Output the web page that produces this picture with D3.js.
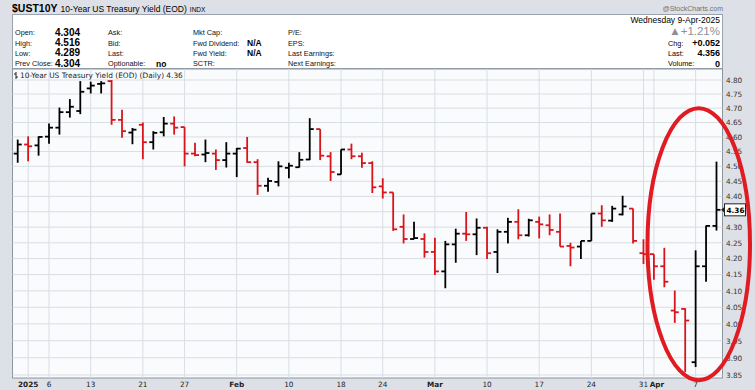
<!DOCTYPE html>
<html>
<head>
<meta charset="utf-8">
<script src="https://cdnjs.cloudflare.com/ajax/libs/d3/7.8.5/d3.min.js"></script>
<style>
  body { margin: 0; background: #dde1e7; }
  svg { display: block; font-family: "Liberation Sans", Arial, sans-serif; }
</style>
</head>
<body>
<svg id="chart"></svg>
<script>
// trading days shown on the chart
const dates = [
  "2024-12-31", "2025-01-02", "2025-01-03", "2025-01-06", "2025-01-07", "2025-01-08", "2025-01-10",
  "2025-01-13", "2025-01-14", "2025-01-15", "2025-01-16", "2025-01-17", "2025-01-21", "2025-01-22",
  "2025-01-23", "2025-01-24", "2025-01-27", "2025-01-28", "2025-01-29", "2025-01-30", "2025-01-31",
  "2025-02-03", "2025-02-04", "2025-02-05", "2025-02-06", "2025-02-07", "2025-02-10", "2025-02-11",
  "2025-02-12", "2025-02-13", "2025-02-14", "2025-02-18", "2025-02-19", "2025-02-20", "2025-02-21",
  "2025-02-24", "2025-02-25", "2025-02-26", "2025-02-27", "2025-02-28", "2025-03-03", "2025-03-04",
  "2025-03-05", "2025-03-06", "2025-03-07", "2025-03-10", "2025-03-11", "2025-03-12", "2025-03-13",
  "2025-03-14", "2025-03-17", "2025-03-18", "2025-03-19", "2025-03-20", "2025-03-21", "2025-03-24",
  "2025-03-25", "2025-03-26", "2025-03-27", "2025-03-28", "2025-03-31", "2025-04-01", "2025-04-02",
  "2025-04-03", "2025-04-04", "2025-04-07", "2025-04-08", "2025-04-09"
];
const opens = [
  4.543, 4.574, 4.571, 4.601, 4.632, 4.686, 4.690, 4.770, 4.786, 4.796, 4.659, 4.615, 4.642, 4.582,
  4.616, 4.646, 4.634, 4.543, 4.540, 4.543, 4.521, 4.543, 4.562, 4.514, 4.435, 4.448, 4.495, 4.497,
  4.523, 4.627, 4.534, 4.473, 4.557, 4.534, 4.511, 4.433, 4.413, 4.301, 4.262, 4.262, 4.221, 4.160,
  4.245, 4.279, 4.277, 4.298, 4.221, 4.285, 4.317, 4.274, 4.317, 4.306, 4.285, 4.240, 4.238, 4.256,
  4.344, 4.321, 4.341, 4.360, 4.217, 4.214, 4.176, 4.040, 4.045, 3.887, 4.176, 4.304
];
const highs = [
  4.591, 4.602, 4.602, 4.646, 4.702, 4.732, 4.796, 4.794, 4.796, 4.800, 4.694, 4.631, 4.650, 4.620,
  4.669, 4.671, 4.634, 4.580, 4.591, 4.557, 4.582, 4.562, 4.600, 4.524, 4.462, 4.517, 4.512, 4.548,
  4.665, 4.627, 4.548, 4.557, 4.577, 4.546, 4.517, 4.460, 4.413, 4.341, 4.317, 4.280, 4.266, 4.256,
  4.295, 4.349, 4.328, 4.301, 4.293, 4.330, 4.358, 4.327, 4.334, 4.341, 4.344, 4.250, 4.256, 4.344,
  4.371, 4.369, 4.402, 4.360, 4.261, 4.214, 4.234, 4.101, 4.047, 4.226, 4.305, 4.516
];
const lows = [
  4.512, 4.517, 4.536, 4.577, 4.608, 4.667, 4.679, 4.752, 4.752, 4.642, 4.597, 4.575, 4.524, 4.557,
  4.602, 4.608, 4.500, 4.534, 4.514, 4.488, 4.496, 4.464, 4.512, 4.405, 4.415, 4.433, 4.460, 4.496,
  4.521, 4.521, 4.451, 4.473, 4.524, 4.495, 4.411, 4.393, 4.288, 4.248, 4.261, 4.203, 4.149, 4.108,
  4.187, 4.256, 4.211, 4.199, 4.155, 4.248, 4.261, 4.270, 4.264, 4.274, 4.238, 4.176, 4.199, 4.256,
  4.301, 4.317, 4.338, 4.248, 4.183, 4.134, 4.111, 4.003, 3.858, 3.873, 4.128, 4.289
];
const closes = [
  4.574, 4.568, 4.600, 4.632, 4.686, 4.705, 4.758, 4.780, 4.788, 4.659, 4.620, 4.625, 4.582, 4.614,
  4.646, 4.632, 4.543, 4.538, 4.545, 4.521, 4.543, 4.560, 4.514, 4.435, 4.451, 4.500, 4.502, 4.522,
  4.627, 4.536, 4.481, 4.557, 4.534, 4.511, 4.430, 4.413, 4.293, 4.262, 4.265, 4.221, 4.160, 4.245,
  4.279, 4.277, 4.298, 4.217, 4.285, 4.317, 4.274, 4.322, 4.309, 4.291, 4.238, 4.235, 4.256, 4.344,
  4.322, 4.360, 4.367, 4.256, 4.214, 4.176, 4.128, 4.035, 4.010, 4.176, 4.304, 4.356
];

const yTicks = [4.80, 4.75, 4.70, 4.65, 4.60, 4.55, 4.50, 4.45, 4.40, 4.35, 4.30, 4.25, 4.20,
  4.15, 4.10, 4.05, 4.00, 3.95, 3.90, 3.85];
const xTickDates = ["2025-01-02", "2025-01-06", "2025-01-13", "2025-01-21", "2025-01-27", "2025-02-03",
  "2025-02-10", "2025-02-18", "2025-02-24", "2025-03-03", "2025-03-10", "2025-03-17", "2025-03-24",
  "2025-03-31", "2025-04-01", "2025-04-07"];
const xTickLabels = ["2025", "6", "13", "21", "27", "Feb", "10", "18", "24", "Mar", "10", "17", "24",
  "31", "Apr", "7"];

// quote panel
const quoteLabels = [
  ["Open:", "High:", "Low:", "Prev Close:"],
  ["Ask:", "Bid:", "Last:", "Optionable:"],
  ["Mkt Cap:", "Fwd Dividend:", "Fwd Yield:", "SCTR:"],
  ["P/E:", "EPS:", "Last Earnings:", "Next Earnings:"]
];
const quoteValues = [
  ["4.304", "4.516", "4.289", "4.304"],
  ["", "", "", "no"],
  ["", "N/A", "N/A", ""],
  ["", "", "", ""]
];
const summaryLabels = ["Chg:", "Last:", "Volume:"];
const summaryValues = ["+0.052", "4.356", "0"];
const lastValue = 4.356;
// the hand-drawn circle around the April swing
const circled = { from: "2025-03-31", to: "2025-04-09", hi: 4.70, lo: 3.835 };

var W = 755, H = 390;
var plot = { left: 12.5, right: 722.5, top: 69, bottom: 378 };
var RED = "#d8151b";

var svg = d3.select("#chart").attr("width", W).attr("height", H);

var x = d3.scaleBand().domain(dates).range([12.5, 721.7]);
function cx(d) { return x(d) + x.bandwidth() / 2; }
var y = d3.scaleLog().domain([3.85, 4.80]).range([375, 80]);

/**
 * Header: symbol line and the quote box.
 */
function drawHeader() {
  var title = svg.append("text").attr("x", 12).attr("y", 12);
  title.append("tspan").style("font-weight", "bold").style("font-size", "10.5px").text("$UST10Y");
  title.append("tspan").attr("dx", 3).style("font-size", "8.5px").text("10-Year US Treasury Yield (EOD)");
  title.append("tspan").attr("dx", 3).style("font-size", "6.5px").text("INDX");

  svg.append("text")
    .attr("x", 723).attr("y", 11)
    .style("text-anchor", "end")
    .style("font-size", "7px")
    .style("fill", "#6b727c")
    .text("@StockCharts.com");

  svg.append("rect")
    .attr("x", 12.5).attr("y", 14.5)
    .attr("width", 710).attr("height", 54)
    .attr("fill", "#ffffff")
    .attr("stroke", "#9aa2ad");

  var labelX = [15, 108, 193, 288];
  var valueX = [55, 156, 247, 0];
  var rowY = [35, 45.5, 55.5, 66];
  quoteLabels.forEach(function(col, c) {
    col.forEach(function(label, r) {
      svg.append("text")
        .attr("x", labelX[c]).attr("y", rowY[r])
        .style("font-size", "7.3px").style("fill", "#111")
        .text(label);
      if (quoteValues[c][r]) {
        svg.append("text")
          .attr("x", valueX[c]).attr("y", rowY[r] + 0.5)
          .style("font-size", c == 0 ? "10px" : "8.5px")
          .style("font-weight", "bold")
          .text(quoteValues[c][r]);
      }
    });
  });

  svg.append("text")
    .attr("x", 720).attr("y", 22.5)
    .style("text-anchor", "end").style("font-size", "8.5px")
    .text("Wednesday  9-Apr-2025");
  svg.append("text")
    .attr("x", 720).attr("y", 35)
    .style("text-anchor", "end").style("font-size", "11.5px")
    .style("fill", "#8b9098")
    .text("\u25B2+1.21%");
  summaryLabels.forEach(function(label, i) {
    svg.append("text")
      .attr("x", 668).attr("y", rowY[i + 1])
      .style("font-size", "7.3px")
      .text(label);
    svg.append("text")
      .attr("x", 720).attr("y", rowY[i + 1] + 0.5)
      .style("text-anchor", "end").style("font-size", "9px").style("font-weight", "bold")
      .text(summaryValues[i]);
  });
}

/**
 * Plot frame, grid and axes.
 */
function drawFrame() {
  svg.append("rect")
    .attr("x", plot.left).attr("y", plot.top)
    .attr("width", plot.right - plot.left).attr("height", plot.bottom - plot.top)
    .attr("fill", "#fafbfd")
    .attr("stroke", "#8c949f");

  svg.append("g").selectAll("line")
    .data(yTicks)
    .enter().append("line")
    .attr("x1", plot.left).attr("x2", plot.right)
    .attr("y1", function(d) { return y(d); })
    .attr("y2", function(d) { return y(d); })
    .attr("stroke", "#d9dde4");

  svg.append("g").selectAll("line")
    .data(xTickDates)
    .enter().append("line")
    .attr("x1", function(d) { return cx(d); })
    .attr("x2", function(d) { return cx(d); })
    .attr("y1", plot.top).attr("y2", plot.bottom)
    .attr("stroke", "#d9dde4");

  // right price axis; the label under the last-value box is hidden
  svg.append("g").selectAll("text")
    .data(yTicks.filter(function(d) { return Math.abs(y(d) - y(lastValue)) > 8; }))
    .enter().append("text")
    .attr("x", 726)
    .attr("y", function(d) { return y(d) + 2.8; })
    .style("font-family", "'DejaVu Sans', Verdana, sans-serif")
    .style("font-size", "7.3px")
    .style("fill", "#333")
    .text(function(d) { return d.toFixed(2); });

  // bottom date axis
  svg.append("g").selectAll("text")
    .data(xTickDates)
    .enter().append("text")
    .attr("x", function(d, i) { return cx(d) + (xTickLabels[i] == "Apr" ? 3 : 0); })
    .attr("y", 387)
    .style("text-anchor", "middle")
    .style("font-family", "'DejaVu Sans', Verdana, sans-serif")
    .style("font-size", "7.3px")
    .style("font-weight", function(d, i) { return isNaN(+xTickLabels[i]) || xTickLabels[i].length == 4 ? "bold" : "normal"; })
    .style("fill", "#222")
    .text(function(d, i) { return xTickLabels[i]; });

  // legend line
  svg.append("path")
    .attr("d", "M16,72V79M14,74H16M16,77H18")
    .attr("stroke", "#222").attr("fill", "none");
  svg.append("text")
    .attr("x", 20).attr("y", 78)
    .style("font-family", "'DejaVu Sans', Verdana, sans-serif")
    .style("font-size", "7.4px")
    .style("fill", "#222")
    .text("10-Year US Treasury Yield (EOD) (Daily) 4.36");
}

/**
 * OHLC bars, red when the close is below the previous close.
 */
function drawBars() {
  var bars = dates.map(function(d, i) {
    return {
      date: d, open: opens[i], high: highs[i], low: lows[i], close: closes[i],
      up: i == 0 || closes[i] >= closes[i - 1]
    };
  });

  var g = svg.append("g").selectAll("g")
    .data(bars)
    .enter().append("g")
    .attr("stroke", function(d) { return d.up ? "#000" : RED; })
    .attr("stroke-width", 1.8);

  g.append("line")
    .attr("x1", function(d) { return cx(d.date); })
    .attr("x2", function(d) { return cx(d.date); })
    .attr("y1", function(d) { return y(d.high); })
    .attr("y2", function(d) { return y(d.low); });
  g.append("line")
    .attr("x1", function(d) { return cx(d.date) - 4; })
    .attr("x2", function(d) { return cx(d.date); })
    .attr("y1", function(d) { return y(d.open); })
    .attr("y2", function(d) { return y(d.open); });
  g.append("line")
    .attr("x1", function(d) { return cx(d.date); })
    .attr("x2", function(d) { return cx(d.date) + 4; })
    .attr("y1", function(d) { return y(d.close); })
    .attr("y2", function(d) { return y(d.close); });

  // last value marker on the axis
  var ly = y(lastValue);
  svg.append("path")
    .attr("d", "M721," + ly + "L724.5," + (ly - 3) + "L724.5," + (ly + 3) + "Z")
    .attr("fill", "#222");
  svg.append("rect")
    .attr("x", 724.5).attr("y", ly - 6)
    .attr("width", 21).attr("height", 12)
    .attr("fill", "#fff").attr("stroke", "#222");
  svg.append("text")
    .attr("x", 726.5).attr("y", ly + 3)
    .style("font-family", "'DejaVu Sans', Verdana, sans-serif")
    .style("font-size", "7.3px").style("font-weight", "bold")
    .text(lastValue.toFixed(2));
}

/**
 * The red hand-drawn ellipse.
 */
function drawCircle() {
  var x0 = cx(circled.from) + 4, x1 = W - 5;
  var y0 = y(circled.hi), y1 = y(circled.lo);
  svg.append("ellipse")
    .attr("cx", (x0 + x1) / 2).attr("cy", (y0 + y1) / 2)
    .attr("rx", (x1 - x0) / 2).attr("ry", (y1 - y0) / 2)
    .attr("fill", "none")
    .attr("stroke", "#e11b22")
    .attr("stroke-width", 4);
}

drawHeader();
drawFrame();
drawBars();
drawCircle();
</script>
</body>
</html>
